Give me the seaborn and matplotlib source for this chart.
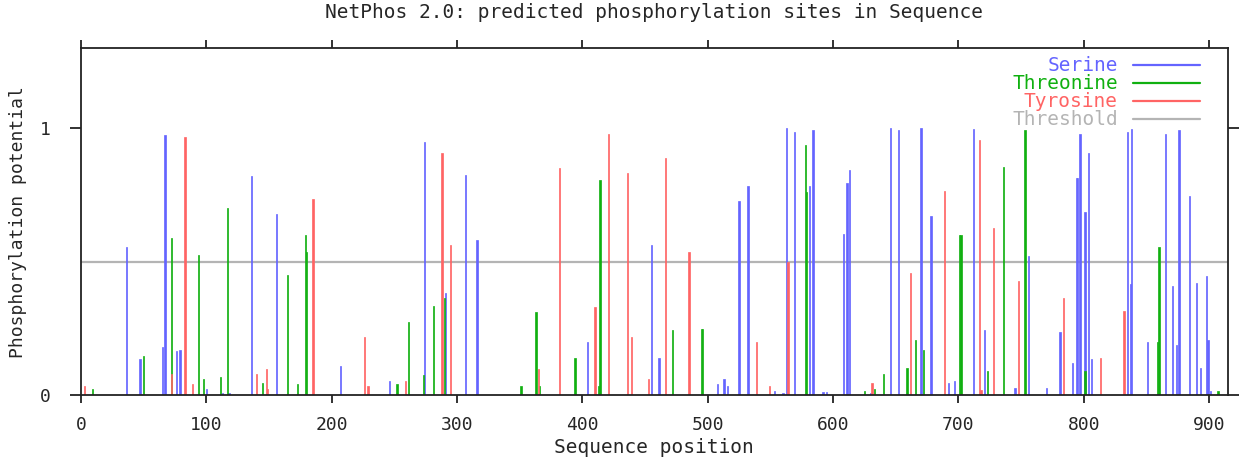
import pandas as pd
import numpy as np
import matplotlib
matplotlib.use("Agg")
import matplotlib.pyplot as plt
import seaborn as sns

# NetPhos 2.0 predictions
serine_pos = [36, 47, 65, 67, 76, 79, 100, 113, 118, 136, 156, 207, 246, 274, 291,
              307, 316, 404, 455, 461, 508, 513, 516, 525, 532, 553, 560, 563, 569,
              581, 584, 592, 595, 608, 611, 613, 630, 646, 652, 670, 678, 692, 697,
              712, 721, 745, 756, 770, 781, 791, 794, 795, 797, 801, 804, 806, 835,
              837, 838, 851, 865, 871, 874, 876, 884, 890, 893, 898, 899, 901]
serine_score = [0.556, 0.134, 0.18, 0.974, 0.164, 0.169, 0.021, 0.008, 0.009, 0.819,
                0.678, 0.108, 0.053, 0.948, 0.384, 0.825, 0.58, 0.2, 0.561, 0.139,
                0.04, 0.059, 0.034, 0.728, 0.783, 0.015, 0.009, 1.0, 0.985, 0.783,
                0.991, 0.01, 0.01, 0.605, 0.795, 0.844, 0.009, 1.0, 0.991, 1.0,
                0.671, 0.046, 0.053, 0.996, 0.243, 0.028, 0.519, 0.028, 0.236, 0.12,
                0.812, 0.812, 0.979, 0.684, 0.905, 0.134, 0.985, 0.414, 0.996, 0.2,
                0.979, 0.408, 0.188, 0.991, 0.746, 0.42, 0.103, 0.445, 0.206, 0.015]

threonine_pos = [9, 50, 72, 94, 98, 111, 117, 145, 165, 173, 179, 180, 252, 261, 273,
                 281, 290, 351, 363, 366, 394, 413, 414, 472, 495, 496, 578, 579, 625,
                 633, 640, 659, 666, 672, 701, 702, 723, 736, 753, 801, 859, 860, 907]
threonine_score = [0.024, 0.145, 0.59, 0.525, 0.059, 0.066, 0.70, 0.046, 0.45, 0.04,
                   0.599, 0.536, 0.04, 0.274, 0.075, 0.335, 0.365, 0.034, 0.31, 0.034,
                   0.139, 0.034, 0.806, 0.243, 0.249, 0.249, 0.936, 0.759, 0.015,
                   0.021, 0.078, 0.103, 0.206, 0.17, 0.599, 0.599, 0.09, 0.856, 0.991,
                   0.09, 0.2, 0.555, 0.015]

tyrosine_pos = [3, 72, 83, 89, 140, 148, 149, 185, 226, 229, 259, 288, 295, 365, 382,
                410, 421, 436, 439, 453, 466, 485, 539, 549, 564, 631, 662, 689, 717,
                718, 728, 748, 784, 813, 832]
tyrosine_score = [0.035, 0.078, 0.966, 0.04, 0.078, 0.096, 0.021, 0.734, 0.218, 0.034,
                  0.053, 0.905, 0.561, 0.096, 0.85, 0.329, 0.979, 0.831, 0.218, 0.059,
                  0.888, 0.536, 0.2, 0.034, 0.5, 0.046, 0.458, 0.765, 0.954, 0.02,
                  0.624, 0.426, 0.365, 0.139, 0.316]

threshold = 0.5
seq_len = 915

residues = ["Serine", "Threonine", "Tyrosine"]
colors = {"Serine": "#6464ff", "Threonine": "#10b010", "Tyrosine": "#ff6464"}
thr_color = "#b4b4b4"

sns.set_style("ticks")
plt.rcParams["font.family"] = ["DejaVu Sans Mono"]

fig = plt.figure(figsize=(12.41, 4.61), dpi=100)
ax = fig.add_axes([81 / 1241, 1 - 395 / 461, (1228 - 81) / 1241, (395 - 48) / 461])

ax.axhline(threshold, color=thr_color, lw=1.6, zorder=0.5)

data = {
    "Serine": (serine_pos, serine_score),
    "Threonine": (threonine_pos, threonine_score),
    "Tyrosine": (tyrosine_pos, tyrosine_score),
}
for res in residues:
    pos, score = data[res]
    df = pd.DataFrame({"pos": pos, "score": score})
    sns.histplot(data=df, x="pos", weights="score", discrete=True, ax=ax,
                 color=colors[res], alpha=1, edgecolor=colors[res], linewidth=0.5)

ax.set_xlim(0, seq_len)
ax.set_ylim(0, 1.3)
ax.set_xticks(range(0, 901, 100))
ax.set_yticks([0, 1])
ax.set_xlabel("")
ax.set_ylabel("")
for sp in ax.spines.values():
    sp.set_visible(True)
    sp.set_linewidth(1.3)
    sp.set_color("#222222")
ax.tick_params(axis="both", direction="out", top=True, right=True,
               labeltop=False, labelright=False, width=1.3, color="#222222",
               labelsize=13)
ax.tick_params(axis="x", length=6, pad=9)
ax.tick_params(axis="y", length=8, pad=14)

# legend, drawn by hand so labels sit right-aligned next to their lines
legend_items = residues + ["Threshold"]
legend_cols = [colors[r] for r in residues] + [thr_color]
for i, (lab, col) in enumerate(zip(legend_items, legend_cols)):
    yy = 0.951 - i * 0.052
    ax.text(0.904, yy, lab, transform=ax.transAxes, ha="right", va="center",
            color=col, fontsize=14)
    ax.plot([0.917, 0.976], [yy, yy], transform=ax.transAxes, color=col, lw=1.6)

fig.text(654 / 1241, 1 - 13 / 461, "NetPhos 2.0: predicted phosphorylation sites in Sequence",
         ha="center", va="center", fontsize=14)
fig.text(654 / 1241, 1 - 447 / 461, "Sequence position", ha="center", va="center", fontsize=14)
fig.text(18 / 1241, 1 - 222 / 461, "Phosphorylation potential", rotation=90,
         ha="center", va="center", fontsize=13)

fig.savefig("out.png", dpi=100)
